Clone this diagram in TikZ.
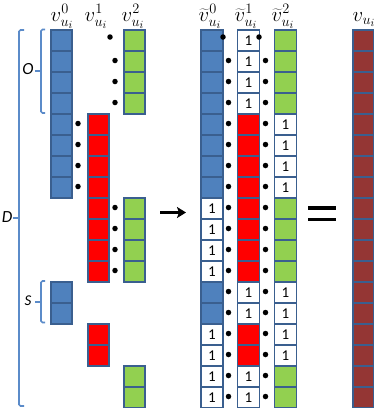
\documentclass[tikz,border=0pt]{standalone}
\usepackage{fontspec}
\newfontfamily\calfont{Carlito}
\usetikzlibrary{arrows.meta}
\definecolor{cblue}{HTML}{4F81BD}
\definecolor{cborder}{HTML}{3A5F8F}
\definecolor{cred}{HTML}{FF0000}
\definecolor{cgreen}{HTML}{92D050}
\definecolor{cbrown}{HTML}{943634}
\definecolor{cbrk}{HTML}{5B8BC9}
\begin{document}
\begin{tikzpicture}[x=1pt,y=-1pt,
  cell/.style={draw=cborder,line width=1.8pt,minimum height=21pt,inner sep=0pt,anchor=north west,
    font=\calfont\fontsize{15}{15}\selectfont},
  nw/.style={cell,minimum width=21pt},
  tw/.style={cell,minimum width=22pt},
  bluec/.style={fill=cblue},
  redc/.style={fill=cred},
  greenc/.style={fill=cgreen},
  brownc/.style={fill=cbrown},
  onec/.style={fill=white},
  dotn/.style={circle,fill=black,inner sep=0pt,minimum size=5.5pt},
  brk/.style={draw=cbrk,line width=1.6pt},
  lbl/.style={anchor=base,inner sep=0pt,font=\fontsize{21.5}{21.5}\selectfont},
  sidelbl/.style={inner sep=0pt,font=\calfont\itshape\fontsize{17}{17}\selectfont}]
\useasboundingbox (0,0) rectangle (374,408);
% ---------- left group ----------
\foreach \r in {0,...,7,12,13} \node[nw,bluec] (a0-\r) at (50,29+21*\r) {};
\foreach \r in {4,...,11,14,15} \node[nw,redc] (a1-\r) at (87,29+21*\r) {};
\foreach \r in {0,...,3,8,9,10,11,16,17} \node[nw,greenc] (a2-\r) at (123,29+21*\r) {};
% dots left group
\node[dotn] (ld0) at (110,37) {};
\foreach \r in {1,2,3} \node[dotn] (ld\r) at (115,39.5+21*\r) {};
\foreach \r in {4,...,7} \node[dotn] (ld\r) at (78,39.5+21*\r) {};
\foreach \r in {8,...,11} \node[dotn] (ld\r) at (115,39.5+21*\r) {};
% labels left group
\node[lbl] (la0) at (62,21) {$v^{0}_{u_i}$};
\node[lbl] (la1) at (96,21) {$v^{1}_{u_i}$};
\node[lbl] (la2) at (133,21) {$v^{2}_{u_i}$};
% brackets
\draw[brk,rounded corners=1.5pt] (24,30) -- (19,30) -- (19,406) -- (24,406);
\draw[brk] (19,218) -- (13,218);
\node[sidelbl] (lD) at (7,217) {D};
\draw[brk,rounded corners=1.5pt] (45,29.5) -- (41,29.5) -- (41,113) -- (45,113);
\draw[brk] (41,71) -- (35,71);
\node[sidelbl] (lO) at (28,69) {O};
\draw[brk,rounded corners=1.5pt] (45,281) -- (41,281) -- (41,322.5) -- (45,322.5);
\draw[brk] (41,302) -- (35,302);
\node[sidelbl,font=\calfont\itshape\fontsize{15}{15}\selectfont] (lS) at (28,300.5) {S};
% ---------- arrow ----------
\coordinate (arS) at (160,212.5);
\coordinate (arE) at (186,212.5);
\draw[line width=2.8pt,-{Stealth[length=9pt,width=11pt,inset=2pt]}] (arS) -- (arE);
% ---------- tilde group ----------
\foreach \r in {0,...,7,12,13} \node[tw,bluec] (b0-\r) at (200,29+21*\r) {};
\foreach \r in {8,...,11,14,15,16,17} \node[tw,onec] (b0-\r) at (200,29+21*\r) {1};
\foreach \r in {0,...,3,12,13,16,17} \node[tw,onec] (b1-\r) at (236.5,29+21*\r) {1};
\foreach \r in {4,...,11,14,15} \node[tw,redc] (b1-\r) at (236.5,29+21*\r) {};
\foreach \r in {0,...,3,8,9,10,11,16,17} \node[tw,greenc] (b2-\r) at (273.5,29+21*\r) {};
\foreach \r in {4,...,7,12,13,14,15} \node[tw,onec] (b2-\r) at (273.5,29+21*\r) {1};
% dots tilde group
\node[dotn] (td0-0) at (223,37) {};
\node[dotn] (td1-0) at (259,37) {};
\foreach \r in {1,...,17} {
  \node[dotn] (td0-\r) at (228.5,39.5+21*\r) {};
  \node[dotn] (td1-\r) at (265.5,39.5+21*\r) {};
}
\node[lbl] (lb0) at (210,21) {$\widetilde{v}^{0}_{u_i}$};
\node[lbl] (lb1) at (246,21) {$\widetilde{v}^{1}_{u_i}$};
\node[lbl] (lb2) at (283,21) {$\widetilde{v}^{2}_{u_i}$};
% ---------- equals ----------
\coordinate (eqA1) at (308,208);
\coordinate (eqA2) at (336,208);
\coordinate (eqB1) at (308,219.5);
\coordinate (eqB2) at (336,219.5);
\draw[line width=3.2pt] (eqA1) -- (eqA2);
\draw[line width=3.2pt] (eqB1) -- (eqB2);
% ---------- result ----------
\foreach \r in {0,...,17} \node[nw,brownc] (c-\r) at (352,29+21*\r) {};
\node[lbl] (lc) at (364,21) {$v_{u_i}$};
\end{tikzpicture}
\end{document}
